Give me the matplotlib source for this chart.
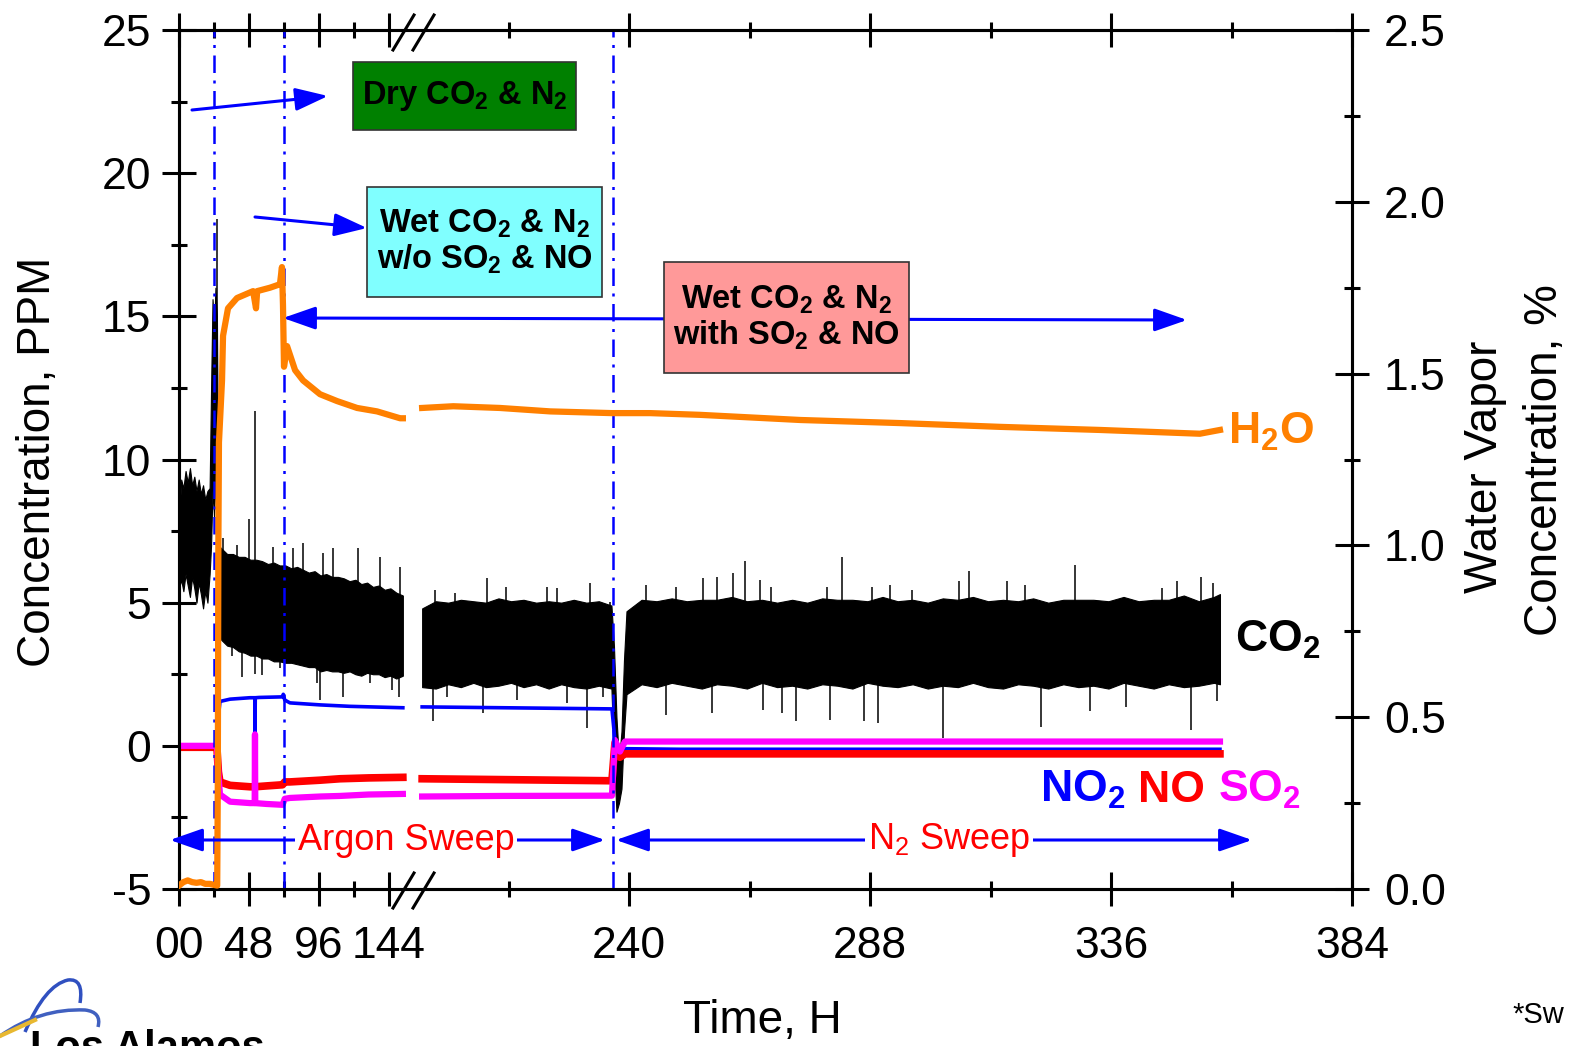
import numpy as np
import matplotlib
matplotlib.use('Agg')
import matplotlib.pyplot as plt
from matplotlib.patches import Rectangle, PathPatch
from matplotlib.path import Path
from matplotlib.lines import Line2D

plt.rcParams.update({
    'font.family': 'Liberation Sans',
    'mathtext.fontset': 'custom',
    'mathtext.rm': 'Liberation Sans',
    'mathtext.it': 'Liberation Sans:italic',
    'mathtext.bf': 'Liberation Sans:bold',
    'axes.unicode_minus': False,
})

orange = '#FF8000'
blue = '#0000FF'
red = '#FF0000'
magenta = '#FF00FF'

# ---- CO2 (ppm), dense core of the noisy trace ----
co2_t1 = [0.0, 1.5, 3, 4.5, 6, 7.5, 9, 10.5, 12, 13.5, 15, 16.5, 18, 19.5, 21,
          22, 23, 24, 25, 26,
          27, 29, 33, 37, 41, 45, 49, 53, 57, 61, 65, 69, 73, 77, 81, 85, 89,
          93, 97, 101, 105, 109, 113, 117, 121, 125, 129, 133, 137, 141, 145, 149, 153.5]
co2_hi1 = [7.5, 9.3, 9.0, 9.6, 9.2, 9.7, 9.1, 9.4, 8.9, 9.3, 8.8, 9.1, 8.6, 8.9, 9.0,
           12.5, 15.6, 14.5, 16.0, 15.0,
           7.0, 6.9, 6.7, 6.7, 6.6, 6.6, 6.5, 6.5, 6.45, 6.35, 6.4, 6.3, 6.3, 6.2, 6.25, 6.15, 6.05,
           6.1, 5.95, 6.0, 5.9, 5.9, 5.85, 5.75, 5.8, 5.65, 5.7, 5.55, 5.6, 5.45, 5.5, 5.35, 5.25]
co2_lo1 = [5.5, 5.8, 5.4, 6.0, 5.6, 5.2, 5.9, 5.5, 5.0, 5.7, 5.3, 4.8, 5.4, 5.0, 6.0,
           7.0, 9.0, 8.0, 9.5, 7.0,
           3.9, 3.7, 3.5, 3.45, 3.3, 3.25, 3.15, 3.15, 3.05, 3.05, 2.95, 2.95, 2.9, 2.9, 2.85, 2.8, 2.75,
           2.75, 2.6, 2.65, 2.6, 2.6, 2.55, 2.6, 2.5, 2.45, 2.55, 2.5, 2.5, 2.4, 2.45, 2.35, 2.45]

co2_t2 = [198.8, 201.5, 204, 206.5, 209, 211.5, 214, 216.5, 219, 221.5, 224, 226.5,
          229, 231.5, 234, 236.5, 237.0, 237.5, 238.0, 238.5, 239.0,
          239.5, 242.5, 245.5, 248.5, 251.5, 254.5, 257.5, 260.5, 263.5, 266.5, 269.5,
          272.5, 275.5, 278.5, 281.5, 284.5, 287.5, 290.5, 293.5, 296.5, 299.5, 302.5,
          305.5, 308.5, 311.5, 314.5, 317.5, 320.5, 323.5, 326.5, 329.5, 332.5, 335.5,
          338.5, 341.5, 344.5, 347.5, 350.5, 353.5, 356.5, 357.7]
co2_hi2 = [4.8, 5.05, 5.0, 5.1, 5.05, 5.0, 5.15, 5.05, 5.1, 5.0, 5.05, 5.0,
           5.1, 5.0, 5.05, 4.9, 3.5, 1.0, -0.5, 0.5, 3.0,
           4.7, 5.1, 5.05, 5.15, 5.05, 5.1, 5.1, 5.2, 5.05, 5.1, 5.0,
           5.1, 5.0, 5.15, 5.1, 5.1, 5.05, 5.2, 5.05, 5.1, 5.0, 5.15,
           5.1, 5.2, 5.05, 5.1, 5.05, 5.15, 5.0, 5.1, 5.1, 5.1, 5.05,
           5.2, 5.05, 5.1, 5.1, 5.25, 5.05, 5.2, 5.3]
co2_lo2 = [2.05, 2.0, 2.15, 2.05, 2.2, 2.05, 2.1, 2.2, 2.05, 2.15, 2.0, 2.15,
           2.05, 2.0, 2.1, 2.0, -0.5, -2.3, -2.0, -1.5, 0.5,
           1.8, 2.15, 2.05, 2.2, 2.1, 2.0, 2.15, 2.1, 2.0, 2.2, 2.05,
           2.1, 2.0, 2.15, 2.1, 2.0, 2.2, 2.1, 2.05, 2.15, 2.0, 2.1,
           2.05, 2.2, 2.05, 2.0, 2.15, 2.1, 2.0, 2.15, 2.05, 2.1, 2.0,
           2.2, 2.1, 2.0, 2.15, 2.05, 2.1, 2.2, 2.15]

# single excursions of the CO2 trace (time, low end, high end)
spike_t = [0.4, 26.1,
           30.4, 39.5, 48.2, 64.7, 78.4, 85.3, 99.0, 105.9, 123.0, 137.9, 151.6,
           36.1, 43.0, 52.1, 56.7, 69.3, 94.4, 96.7, 112.7, 131.0, 145.9, 150.8,
           201.4, 205.3, 211.7, 215.6, 223.6, 225.6, 232.2, 236.2,
           200.9, 203.7, 210.9, 217.6, 227.6, 231.6, 234.8,
           243.3, 249.3, 254.8, 257.5, 260.7, 263.1, 266.1, 268.2, 279.5, 282.4,
           288.4, 291.9, 296.3, 305.8, 307.7, 315.2, 318.8, 328.8, 346.1, 349.2,
           354.0, 356.4,
           247.3, 256.6, 266.6, 270.4, 273.2, 280.1, 286.8, 289.6, 302.6, 322.0,
           331.9, 339.0, 352.0, 357.1]
spike_lo = [-1.3, 7.0,
            5.0, 5.0, 4.5, 4.5, 4.5, 4.5, 4.5, 4.5, 4.0, 4.0, 4.0,
            3.12, 2.42, 2.5, 2.48, 2.71, 2.19, 1.6, 1.7, 2.19, 1.96, 1.72,
            4.0, 4.0, 4.0, 4.0, 4.0, 4.0, 4.0, 4.0,
            0.85, 1.72, 1.14, 1.6, 1.49, 0.62, 1.72,
            4.0, 4.0, 4.0, 4.0, 4.0, 4.0, 4.0, 4.0, 4.0, 4.0,
            4.0, 4.0, 4.0, 4.0, 4.0, 4.0, 4.0, 4.0, 4.0, 4.0,
            4.0, 4.0,
            1.08, 1.14, 1.26, 1.14, 0.85, 0.91, 0.85, 0.81, 0.27, 0.67,
            1.2, 1.37, 0.56, 1.55]
spike_hi = [8.0, 18.4,
            7.25, 7.0, 7.93, 6.96, 6.9, 7.1, 6.73, 6.9, 6.9, 6.6, 6.26,
            4.0, 4.0, 11.7, 4.0, 4.0, 4.0, 4.0, 4.0, 4.0, 4.0, 4.0,
            5.45, 5.34, 5.86, 5.56, 5.56, 5.5, 5.69, 5.04,
            3.0, 3.0, 3.0, 3.0, 3.0, 3.0, 3.0,
            5.62, 5.56, 5.85, 5.91, 6.03, 6.44, 5.8, 5.56, 5.56, 6.59,
            5.56, 5.62, 5.45, 5.74, 6.12, 5.74, 5.62, 6.32, 5.5, 5.74,
            5.89, 5.68,
            3.0, 3.0, 3.0, 3.0, 3.0, 3.0, 3.0, 3.0, 3.0, 3.0,
            3.0, 3.0, 3.0, 3.0]

# ---- H2O (%), right axis ----
h2o_t1 = [0, 3, 6, 9, 12, 15, 18, 21, 24, 26.2, 26.6, 27.0, 27.4, 29.5, 30.2, 33.6,
          39.8, 50.8, 52.8, 53.6, 62.4, 69.2, 70.6, 71.3, 72.0, 74.1, 79.6, 85.1,
          96.7, 108.4, 122.1, 135.8, 151.6, 153.5]
h2o_1 = [0.01, 0.02, 0.025, 0.02, 0.018, 0.02, 0.015, 0.015, 0.012, 0.01, 0.3, 1.0,
         1.3, 1.48, 1.61, 1.69, 1.72, 1.74, 1.69, 1.74, 1.75, 1.76, 1.81, 1.70, 1.52,
         1.58, 1.51, 1.48, 1.44, 1.42, 1.40, 1.39, 1.37, 1.37]
h2o_t2 = [198.8, 205, 214.3, 224.3, 236.6, 244.2, 254.1, 274.1, 294.0, 313.9, 333.8,
          353.7, 357.7]
h2o_2 = [1.40, 1.405, 1.40, 1.39, 1.385, 1.385, 1.38, 1.365, 1.356, 1.345, 1.336,
         1.325, 1.336]

# ---- NO2 / NO / SO2 (ppm) ----
no2_t1 = [0, 26.0, 27.0, 28.1, 35, 48.7, 52.0, 52.1, 52.3, 55, 71.0, 71.5, 72.5,
          76.1, 96.7, 117, 153.5]
no2_1 = [0, 0, 1.0, 1.55, 1.63, 1.68, 1.68, 0.3, 1.68, 1.69, 1.71, 1.8, 1.6, 1.5,
         1.43, 1.38, 1.33]
no2_t2 = [198.8, 215, 236.6, 237.2, 238.2, 239.2, 250, 357.7]
no2_2 = [1.36, 1.33, 1.29, 0.2, -0.3, -0.1, -0.12, -0.12]

no_t1 = [0, 26.0, 27.0, 28.1, 35, 48.7, 52.1, 60, 71.0, 72.5, 76.1, 96.7, 110.4,
         130, 153.5]
no_1 = [-0.05, -0.05, -0.9, -1.26, -1.38, -1.43, -1.43, -1.4, -1.36, -1.26, -1.26,
        -1.2, -1.15, -1.12, -1.10]
no_t2 = [198.8, 215, 236.6, 237.2, 238.2, 239.2, 357.7]
no_2 = [-1.15, -1.18, -1.22, 0.1, -0.4, -0.28, -0.28]

so2_t1 = [0, 26.0, 27.0, 28.1, 35, 48.7, 51.9, 52.1, 52.3, 60, 71.0, 72.5, 76.1,
          96.7, 110.4, 130, 153.5]
so2_1 = [0.0, 0.0, -1.0, -1.7, -1.95, -2.0, -2.0, 0.4, -2.0, -2.03, -2.06, -1.85,
         -1.82, -1.77, -1.75, -1.70, -1.68]
so2_t2 = [198.8, 215, 236.6, 237.2, 238.2, 239.2, 357.7]
so2_2 = [-1.77, -1.75, -1.74, 0.2, -0.2, 0.15, 0.15]

switch_t = [24, 72, 236.8]

major_ticks = [0, 48, 96, 144, 240, 288, 336, 384]
major_labels = ['00', '48', '96', '144', '240', '288', '336', '384']
minor_ticks = [24, 72, 120, 216, 264, 312, 360]

# ---- broken time axis: 0-154 h compressed, 196-384 h normal ----
sl_left, sl_right = 210 / 144, 723 / 144
brk_h = np.array([-1000.0, 0.0, 154.0, 196.0, 384.0, 2000.0])
brk_u = np.array([-1000 * sl_left, 0.0, 154 * sl_left,
                  1173 - (384 - 196) * sl_right, 1173.0,
                  1173 + (2000 - 384) * sl_right])


def fwd(h):
    return np.interp(h, brk_h, brk_u)


def inv(u):
    return np.interp(u, brk_u, brk_h)


W, H = 1573, 1046
fig = plt.figure(figsize=(W / 100, H / 100), dpi=100)
ax = fig.add_axes([179 / W, 1 - 889 / H, 1173 / W, 859 / H])
ax.set_xscale('function', functions=(fwd, inv))
ax2 = ax.twinx()


def fx(px):
    return (px - 179) / 1173


def fy(py):
    return (889 - py) / 859


# CO2 band
for t, lo, hi in [(co2_t1, co2_lo1, co2_hi1), (co2_t2, co2_lo2, co2_hi2)]:
    ax.fill_between(t, lo, hi, color='black', lw=0.8, zorder=2)
ax.vlines(spike_t, spike_lo, spike_hi, color='black', lw=1.1, zorder=2)

for t, v in [(no2_t1, no2_1), (no2_t2, no2_2)]:
    ax.plot(t, v, color=blue, lw=2.6, zorder=3)
for t, v in [(no_t1, no_1), (no_t2, no_2)]:
    ax.plot(t, v, color=red, lw=5.5, zorder=3)
for t, v in [(so2_t1, so2_1), (so2_t2, so2_2)]:
    ax.plot(t, v, color=magenta, lw=4.5, zorder=4)

for t in switch_t:
    ax.axvline(t, color=blue, lw=1.8, ls=(0, (7, 3, 1.2, 3)), zorder=5)

for t, v in [(h2o_t1, h2o_1), (h2o_t2, h2o_2)]:
    ax2.plot(t, v, color=orange, lw=4.5, zorder=3)

ax.set_xlim(0, 384)
ax.set_ylim(-5, 25)
ax2.set_ylim(0, 2.5)

ax.set_xticks(major_ticks, major_labels)
ax.set_xticks(minor_ticks, minor=True)
ax.set_yticks([-5, 0, 5, 10, 15, 20, 25])
ax.set_yticks([-2.5, 2.5, 7.5, 12.5, 17.5, 22.5], minor=True)
ax2.set_yticks([0, 0.5, 1.0, 1.5, 2.0, 2.5], ['0.0', '0.5', '1.0', '1.5', '2.0', '2.5'])
ax2.set_yticks([0.25, 0.75, 1.25, 1.75, 2.25], minor=True)

for a in (ax, ax2):
    for s in a.spines.values():
        s.set_linewidth(2.2)
ax.tick_params(axis='both', which='both', direction='inout', width=2.2,
               labelsize=32, top=True)
ax.tick_params(which='major', length=24)
ax.tick_params(which='minor', length=12)
ax.tick_params(axis='y', pad=8)
ax.tick_params(axis='x', pad=15)
ax2.tick_params(axis='y', which='both', direction='inout', width=2.2, labelsize=32, pad=11)
ax2.tick_params(which='major', length=24)
ax2.tick_params(which='minor', length=12)

# axis break marks
for yb in (32, 890):
    for x0 in (393, 413):
        fig.add_artist(Line2D([x0 / W, (x0 + 21) / W],
                              [1 - (yb + 18) / H, 1 - (yb - 17) / H],
                              color='black', lw=2.2))

# annotation boxes
T = ax2.transAxes
boxes = [((353, 62, 576, 130), '#008000', r'Dry CO$_\mathbf{2}$ & N$_\mathbf{2}$'),
         ((367, 187, 602, 297), '#80FFFF',
          'Wet CO$_\\mathbf{2}$ & N$_\\mathbf{2}$\nw/o SO$_\\mathbf{2}$ & NO'),
         ((664, 262, 909, 373), '#FF9999',
          'Wet CO$_\\mathbf{2}$ & N$_\\mathbf{2}$\nwith SO$_\\mathbf{2}$ & NO')]
for (x0, y0, x1, y1), fc, txt in boxes:
    ax2.add_patch(Rectangle((fx(x0), fy(y1)), fx(x1) - fx(x0), fy(y0) - fy(y1),
                            transform=T, fc=fc, ec='#333333', lw=1.2, zorder=6,
                            clip_on=False))
    ax2.text(fx((x0 + x1) / 2), fy((y0 + y1) / 2), txt, transform=T, ha='center',
             va='center', fontsize=23.5, fontweight='bold', linespacing=1.1, zorder=7)

arr = dict(color=blue, lw=2.2, shrinkA=0, shrinkB=0, mutation_scale=20)
one = '-|>,head_length=1.0,head_width=0.35'
two = '<|-|>,head_length=1.0,head_width=0.35'
for (xa, ya), (xb, yb), st in [((192, 110), (328, 96), one),
                               ((255, 217), (367, 228), one),
                               ((283, 318), (1187, 320), two),
                               ((170, 840), (605, 840), two),
                               ((616, 840), (1252, 840), two)]:
    ax2.annotate('', xy=(fx(xb), fy(yb)), xytext=(fx(xa), fy(ya)), xycoords=T,
                 arrowprops=dict(arrowstyle=st, **arr), zorder=5)
wb = dict(fc='white', ec='none', pad=2)
ax2.text(fx(406), fy(840), 'Argon Sweep', transform=T, color=red, fontsize=26,
         ha='center', va='center', bbox=wb, zorder=7)
ax2.text(fx(949), fy(840), r'N$_2$ Sweep', transform=T, color=red, fontsize=26,
         ha='center', va='center', bbox=wb, zorder=7)

# series labels
ax2.text(fx(1228), fy(432), r'H$_\mathbf{2}$O', transform=T, color=orange, fontsize=32,
         fontweight='bold', ha='left', va='center', zorder=7)
ax2.text(fx(1235), fy(640), r'CO$_\mathbf{2}$', transform=T, color='black', fontsize=32,
         fontweight='bold', ha='left', va='center', zorder=7)
for x0, txt, c in [(1040, r'NO$_\mathbf{2}$', blue), (1138, 'NO', red),
                   (1218, r'SO$_\mathbf{2}$', magenta)]:
    ax2.text(fx(x0), fy(790), txt, transform=T, color=c, fontsize=32,
             fontweight='bold', ha='left', va='center', zorder=7)

# axis titles
fig.text(38 / W, 1 - 462 / H, 'Concentration, PPM', rotation=90, ha='center',
         va='center', fontsize=33)
fig.text(1485 / W, 1 - 467 / H, 'Water Vapor', rotation=90, ha='center',
         va='center', fontsize=33)
fig.text(1545 / W, 1 - 460 / H, 'Concentration, %', rotation=90, ha='center',
         va='center', fontsize=33)
fig.text(762 / W, 1 - 1021 / H, 'Time, H', ha='center', va='center', fontsize=33)

# slide remnants: logo and footnote at the frame edge
fig.text(30 / W, 1 - 1060 / H, 'Los Alamos', fontsize=30, fontweight='bold',
         ha='left', va='baseline')
fig.text(1512 / W, 1 - 1015 / H, '*Sw', fontsize=21, ha='left', va='center')
px_tr = fig.dpi_scale_trans


def pth(pts):
    verts = [(x / 100, (H - y) / 100) for x, y in pts]
    return Path(verts, [Path.MOVETO, Path.CURVE3, Path.CURVE3, Path.CURVE3, Path.CURVE3])


fig.add_artist(PathPatch(pth([(25, 1032), (45, 985), (68, 980), (84, 978), (80, 1003)]),
                         transform=px_tr, fc='none', ec='#3050C0', lw=2.5))
fig.add_artist(PathPatch(pth([(0, 1036), (40, 1008), (85, 1010), (102, 1012), (98, 1027)]),
                         transform=px_tr, fc='none', ec='#4060C0', lw=2.5))
fig.add_artist(Line2D([0, 35 / W], [1 - 1036 / H, 1 - 1020 / H], color='#E8B830', lw=3))

fig.savefig('out.png', dpi=100)
